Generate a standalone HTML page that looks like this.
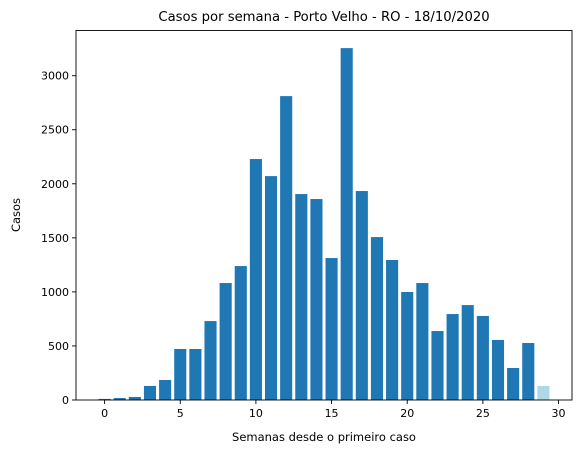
<!DOCTYPE html>
<html><head><meta charset="utf-8"><style>
html,body{margin:0;padding:0;background:#fff;}
svg text{font-family:"DejaVu Sans","Liberation Sans",sans-serif;fill:#000;}
</style></head><body>
<svg id="chart" width="580" height="453" viewBox="0 0 580 453">
<rect x="0" y="0" width="580" height="453" fill="#fff"/>
<g id="bars"></g>
<g id="axes"></g>
</svg>
<script>
const weeks = [0,1,2,3,4,5,6,7,8,9,10,11,12,13,14,15,16,17,18,19,20,21,22,23,24,25,26,27,28,29];
const cases = [10,18,28,130,185,472,472,730,1082,1239,2229,2071,2811,1905,1859,1313,3255,1933,1507,1295,999,1082,638,795,878,777,555,296,527,130];
const partialWeek = [false,false,false,false,false,false,false,false,false,false,false,false,false,false,false,false,false,false,false,false,false,false,false,false,false,false,false,false,false,true];
const xTicks = [0,5,10,15,20,25,30];
const yTicks = [0,500,1000,1500,2000,2500,3000];

const L=76,R=572,T=30.5,B=400;
const xmin=-1.89,xmax=30.89,ymin=0,ymax=3418;
const xs=v=>L+(v-xmin)/(xmax-xmin)*(R-L);
const ys=v=>B-(v-ymin)/(ymax-ymin)*(B-T);
const NS="http://www.w3.org/2000/svg";
const bars=document.getElementById('bars'), axes=document.getElementById('axes');
function mk(tag,attrs,parent){const e=document.createElementNS(NS,tag);for(const k in attrs)e.setAttribute(k,attrs[k]);parent.appendChild(e);return e;}

weeks.forEach((w,i)=>{
  const x0=xs(w-0.4),x1=xs(w+0.4);
  const r=mk('rect',{x:x0,y:ys(cases[i]),width:x1-x0,height:ys(0)-ys(cases[i]),fill:partialWeek[i]?'#add8e6':'#1f77b4'},bars);
  
  
});

const frame=mk('rect',{x:L,y:T,width:R-L,height:B-T,fill:'none',stroke:'#000','stroke-width':0.9},axes);



xTicks.forEach(t=>{
  const x=xs(t);
  mk('line',{x1:x,x2:x,y1:B,y2:B+4,stroke:'#000','stroke-width':0.9},axes);
  const tx=mk('text',{x:x,y:B+17,'text-anchor':'middle','font-size':11},axes);
  tx.textContent=t;
  
  
});
yTicks.forEach(t=>{
  const y=ys(t);
  mk('line',{x1:L-4,x2:L,y1:y,y2:y,stroke:'#000','stroke-width':0.9},axes);
  const tx=mk('text',{x:L-7,y:y+4,'text-anchor':'end','font-size':11},axes);
  tx.textContent=t;
  
  
});
</script>
<svg width="580" height="453" style="position:absolute;left:0;top:0">
<text x="324" y="21" text-anchor="middle" font-size="13.2">Casos por semana - Porto Velho - RO - 18/10/2020</text>
<text x="324" y="441" text-anchor="middle" font-size="11.5">Semanas desde o primeiro caso</text>
<text x="0" y="0" transform="translate(20,215) rotate(-90)" text-anchor="middle" font-size="11.5">Casos</text>
</svg>
</body></html>
